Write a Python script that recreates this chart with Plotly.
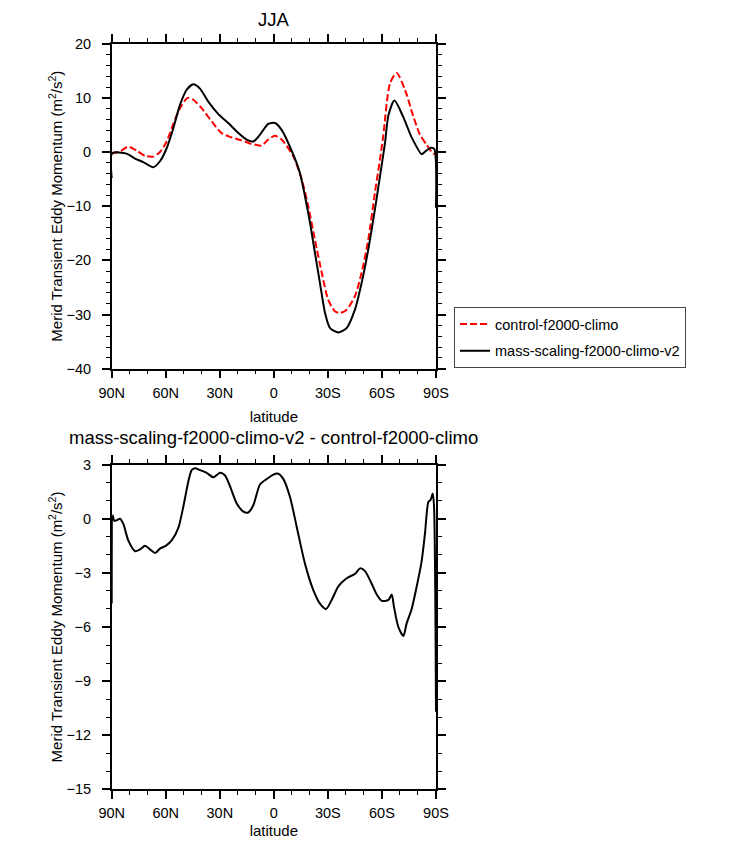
import plotly.graph_objects as go

# ---- data ----
lat_ctrl = [90, 89.7, 85.4, 80.8, 76.1, 71.5, 66.9, 63.2, 59.5, 55.8, 52.1, 47.8, 44.7, 40.1,
            34.5, 29.0, 23.4, 17.9, 12.3, 6.8, 3.1, -0.6, -4.3, -10.8, -15.5, -19.1, -22.8,
            -26.6, -30.2, -33.9, -36.7, -40.4, -45.0, -48.7, -52.4, -56.1, -58.9, -60.7,
            -64.5, -68.2, -72.8, -77.4, -81.1, -84.8, -88.5, -90]
ctrl = [-0.1, -0.2, 0.1, 1.0, 0.25, -0.7, -0.85, 0.0, 1.95, 5.2, 8.1, 10.0, 9.65, 8.1,
        5.65, 3.5, 2.7, 2.15, 1.5, 1.2, 2.3, 3.0, 2.3, -0.8, -5.1, -10.0, -16.2,
        -22.3, -27.3, -29.4, -29.7, -29.1, -26.6, -22.3, -16.2, -7.5, -1.4, 2.9,
        12.7, 14.6, 11.5, 6.6, 3.2, 1.35, -0.3, -0.3]

lat_mass = [90, 89.7, 81.7, 77.1, 72.5, 66.9, 63.2, 59.5, 55.8, 52.1, 48.4, 44.7, 41.0,
            36.4, 30.8, 25.3, 19.7, 15.1, 11.4, 7.7, 3.1, -0.6, -4.3, -10.8, -14.5,
            -17.3, -20.1, -22.8, -25.6, -28.4, -31.2, -35.8, -40.4, -45.0, -48.7, -52.4,
            -56.1, -58.9, -61.7, -63.6, -66.9, -71.8, -76.5, -82.1, -84.0, -87.1, -89.0, -90]
mass = [-4.8, -0.2, -0.3, -1.2, -1.85, -2.8, -1.7, 0.7, 4.4, 8.7, 11.5, 12.5, 11.7,
        9.3, 7.0, 5.35, 3.5, 2.3, 1.95, 3.2, 5.2, 5.35, 4.1, -0.5, -3.9,
        -8.2, -13.1, -18.6, -24.2, -29.7, -32.5, -33.3, -32.5, -29.1, -24.2, -18.0,
        -10.6, -4.5, 1.7, 6.8, 9.5, 6.5, 2.7, -0.4, 0.1, 0.8, 0.6, -10.3]

lat_diff = [90, 89.4, 88.7, 87.6, 85.4, 83.5, 80.8, 77.0, 74.3, 71.5, 68.7, 65.9, 63.2,
            60.0, 56.7, 53.0, 50.2, 47.4, 45.6, 43.8, 41.0, 37.3, 33.6, 29.9, 27.1,
            24.3, 20.6, 16.9, 14.2, 11.4, 7.7, 4.0, 0.3, -2.5, -5.3, -9.0, -12.7,
            -17.3, -21.9, -25.6, -29.0, -32.1, -35.8, -40.4, -45.1, -47.8, -50.6,
            -54.3, -57.1, -59.9, -63.6, -65.4, -66.7, -69.1, -71.9, -73.7, -76.5,
            -79.3, -82.1, -83.9, -85.8, -87.0, -88.2, -88.9, -90]
diff = [-4.7, 0.2, -0.1, -0.1, 0.0, -0.3, -1.2, -1.8, -1.7, -1.5, -1.7, -1.9, -1.65,
        -1.5, -1.2, -0.5, 0.7, 2.1, 2.7, 2.8, 2.7, 2.55, 2.3, 2.55, 2.4,
        1.8, 0.85, 0.4, 0.35, 0.75, 1.9, 2.2, 2.45, 2.5, 2.2, 1.2, -0.45,
        -2.5, -3.95, -4.7, -5.0, -4.5, -3.75, -3.3, -3.05, -2.75, -2.9,
        -3.6, -4.2, -4.55, -4.5, -4.2, -4.9, -6.0, -6.5, -5.8, -5.0,
        -3.75, -2.3, -0.8, 0.95, 1.05, 1.4, 0.7, -10.7]

lat_tickvals = [90, 60, 30, 0, -30, -60, -90]
lat_ticktext = ["90N", "60N", "30N", "0", "30S", "60S", "90S"]
top_yticks = [-40, -30, -20, -10, 0, 10, 20]
bot_yticks = [-15, -12, -9, -6, -3, 0, 3]

FONT = "Liberation Sans, Helvetica, Arial, sans-serif"
WIN_W, WIN_H = 732, 847
PAD = 8                      # page body margin around the figure
W, H = WIN_W - 2 * PAD, WIN_H - 2 * PAD

def fx(px):
    return (px - PAD) / W

def fy(py):
    return 1 - (py - PAD) / H

fig = go.Figure()
fig.add_trace(go.Scatter(x=lat_ctrl, y=ctrl, mode="lines", name="control-f2000-climo",
                         legendgroup="a",
                         line=dict(color="red", width=2, dash="7px,3px", shape="spline", smoothing=0.7),
                         xaxis="x", yaxis="y"))
fig.add_trace(go.Scatter(x=lat_mass, y=mass, mode="lines", name="mass-scaling-f2000-climo-v2",
                         legendgroup="b",
                         line=dict(color="black", width=2, shape="spline", smoothing=0.7),
                         xaxis="x", yaxis="y"))
fig.add_trace(go.Scatter(x=lat_diff, y=diff, mode="lines", showlegend=False,
                         line=dict(color="black", width=2, shape="spline", smoothing=0.7),
                         xaxis="x2", yaxis="y2"))

xl, xr = fx(111.7), fx(436)
ytitle = "Merid Transient Eddy Momentum (m<sup>2</sup>/s<sup>2</sup>)"

def xaxis_common(anchor):
    return dict(domain=[xl, xr], range=[90, -90], anchor=anchor, automargin=False,
                tickmode="array", tickvals=lat_tickvals, ticktext=lat_ticktext,
                ticks="outside", ticklen=8, tickwidth=1.5, tickcolor="black",
                ticklabelstandoff=2,
                minor=dict(tickmode="linear", tick0=0, dtick=10, ticks="outside",
                           ticklen=4, tickwidth=1.2, tickcolor="black"),
                showline=True, linecolor="black", linewidth=1.5, mirror="allticks",
                showgrid=False, zeroline=False,
                tickfont=dict(family=FONT, size=14.5, color="black"),
                title=dict(text="latitude", font=dict(family=FONT, size=15, color="black"), standoff=12))

def yaxis_common(anchor, rng, vals, dminor, dom):
    return dict(domain=dom, range=rng, anchor=anchor, automargin=False,
                tickmode="array", tickvals=vals,
                ticks="outside", ticklen=8, tickwidth=1.5, tickcolor="black",
                ticklabelstandoff=8,
                minor=dict(tickmode="linear", tick0=0, dtick=dminor, ticks="outside",
                           ticklen=4, tickwidth=1.2, tickcolor="black"),
                showline=True, linecolor="black", linewidth=1.5, mirror="allticks",
                showgrid=False, zeroline=False,
                tickfont=dict(family=FONT, size=14.5, color="black"),
                title=dict(text=ytitle, font=dict(family=FONT, size=15, color="black"), standoff=0))

fig.update_layout(
    template="none",
    width=W, height=H,
    margin=dict(l=0, r=0, t=0, b=0, autoexpand=False),
    paper_bgcolor="white", plot_bgcolor="white",
    xaxis=xaxis_common("y"),
    yaxis=yaxis_common("x", [-40, 20], top_yticks, 2, [fy(368.7), fy(43.7)]),
    xaxis2=xaxis_common("y2"),
    yaxis2=yaxis_common("x2", [-15, 3], bot_yticks, 1, [fy(789.3), fy(464.7)]),
    showlegend=True,
    legend=dict(x=fx(454), y=fy(307), xanchor="left", yanchor="top",
                bordercolor="#444", borderwidth=1, bgcolor="white",
                font=dict(family=FONT, size=14.5, color="black"),
                tracegroupgap=5, itemwidth=30, traceorder="grouped"),
    annotations=[
        dict(text="JJA", x=fx(273.8), y=fy(19.5), xref="paper", yref="paper",
             xanchor="center", yanchor="middle", borderpad=0,
             showarrow=False, font=dict(family=FONT, size=18.5, color="black")),
        dict(text="mass-scaling-f2000-climo-v2 - control-f2000-climo", x=fx(273.8), y=fy(437.5),
             xref="paper", yref="paper", xanchor="center", yanchor="middle", showarrow=False,
             font=dict(family=FONT, size=18.5, color="black")),
    ],
)

fig.write_html("out.html")
